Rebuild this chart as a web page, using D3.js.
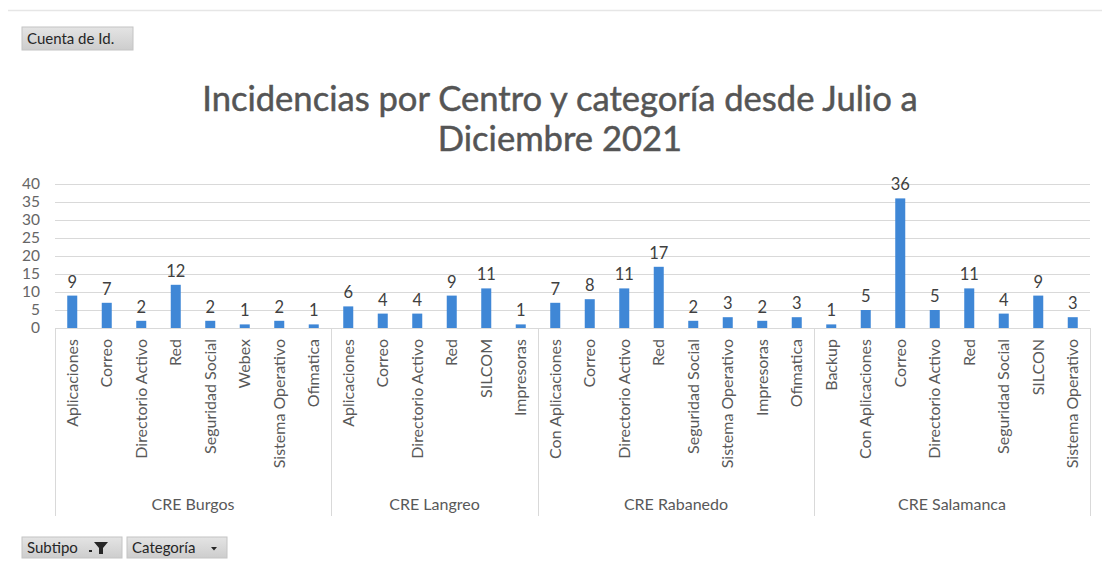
<!DOCTYPE html>
<html>
<head>
<meta charset="utf-8">
<script src="https://cdn.jsdelivr.net/npm/d3@7"></script>
<style>
  html, body { margin: 0; padding: 0; background: #ffffff; }
  svg { display: block; }
  text { font-family: Lato, "Open Sans", sans-serif; }
</style>
</head>
<body>
<svg id="chart" width="1102" height="561"></svg>
<script>
// Incidencias por centro (CRE) y subtipo, julio–diciembre 2021
const centros = ["CRE Burgos", "CRE Langreo", "CRE Rabanedo", "CRE Salamanca"];

const subtiposBurgos = ["Aplicaciones", "Correo", "Directorio Activo", "Red", "Seguridad Social", "Webex", "Sistema Operativo", "Ofimatica"];
const valoresBurgos = [9, 7, 2, 12, 2, 1, 2, 1];

const subtiposLangreo = ["Aplicaciones", "Correo", "Directorio Activo", "Red", "SILCOM", "Impresoras"];
const valoresLangreo = [6, 4, 4, 9, 11, 1];

const subtiposRabanedo = ["Con Aplicaciones", "Correo", "Directorio Activo", "Red", "Seguridad Social", "Sistema Operativo", "Impresoras", "Ofimatica"];
const valoresRabanedo = [7, 8, 11, 17, 2, 3, 2, 3];

const subtiposSalamanca = ["Backup", "Con Aplicaciones", "Correo", "Directorio Activo", "Red", "Seguridad Social", "SILCON", "Sistema Operativo"];
const valoresSalamanca = [1, 5, 36, 5, 11, 4, 9, 3];

const yTicks = [0, 5, 10, 15, 20, 25, 30, 35, 40];

const subtiposPorCentro = [subtiposBurgos, subtiposLangreo, subtiposRabanedo, subtiposSalamanca];
const valoresPorCentro = [valoresBurgos, valoresLangreo, valoresRabanedo, valoresSalamanca];

// Flatten into one row per bar
const rows = [];
centros.forEach((c, gi) => {
  subtiposPorCentro[gi].forEach((s, i) => {
    rows.push({ key: rows.length, centro: c, group: gi, subtipo: s, value: valoresPorCentro[gi][i] });
  });
});

const svg = d3.select("#chart");
const W = 1102, H = 561;
const plot = { left: 55, right: 1090, top: 184, bottom: 328 };

const x = d3.scaleBand()
  .domain(rows.map(d => d.key))
  .range([plot.left, plot.right])
  .paddingInner(0.71)
  .paddingOuter(0.355);

const y = d3.scaleLinear().domain([0, 40]).range([plot.bottom, plot.top]);

const gray = "#595959";

// outer frame line at top
svg.append("line")
  .attr("x1", 8).attr("x2", W).attr("y1", 10.5).attr("y2", 10.5)
  .attr("stroke", "#e6e6e6").attr("stroke-width", 1.5);

// Title
const title = svg.append("g").attr("fill", "#555555").attr("text-anchor", "middle");
const t1 = title.append("text").attr("x", 560).attr("y", 111)
  .style("font-size", "30px").text("Incidencias por Centro y categoría desde Julio a");
const targetW = 716;
const fs = 30 * targetW / t1.node().getComputedTextLength();
t1.style("font-size", fs + "px");
title.append("text").attr("x", 560).attr("y", 151)
  .style("font-size", fs + "px").text("Diciembre 2021");
title.selectAll("text").attr("stroke", "#555555").attr("stroke-width", 0.5);

// Gridlines
svg.append("g")
  .selectAll("line")
  .data(yTicks.filter(v => v > 0))
  .join("line")
  .attr("x1", plot.left).attr("x2", plot.right)
  .attr("y1", d => Math.round(y(d)) + 0.5).attr("y2", d => Math.round(y(d)) + 0.5)
  .attr("stroke", "#d9d9d9").attr("stroke-width", 1);

// Y axis
const yAxis = svg.append("g")
  .attr("transform", `translate(${plot.left},0)`)
  .call(d3.axisLeft(y).tickValues(yTicks).tickSize(0).tickPadding(15));
yAxis.select(".domain").remove();
yAxis.selectAll("text")
  .attr("fill", "#666666")
  .style("font-family", "Lato, 'Open Sans', sans-serif")
  .style("font-size", "15.5px");

// Bars
svg.append("g")
  .selectAll("rect")
  .data(rows)
  .join("rect")
  .attr("x", d => x(d.key))
  .attr("width", x.bandwidth())
  .attr("y", d => y(d.value))
  .attr("height", d => y(0) - y(d.value))
  .attr("fill", "#3f87d6");

// Value labels
svg.append("g")
  .selectAll("text")
  .data(rows)
  .join("text")
  .attr("x", d => x(d.key) + x.bandwidth() / 2)
  .attr("y", d => y(d.value) - 8)
  .attr("text-anchor", "middle")
  .attr("fill", "#404040")
  .style("font-size", "16.5px")
  .text(d => d.value);

// Category axis: baseline, group separators
svg.append("line")
  .attr("x1", plot.left).attr("x2", plot.right)
  .attr("y1", plot.bottom + 0.5).attr("y2", plot.bottom + 0.5)
  .attr("stroke", "#d9d9d9");

const groupBounds = centros.map((c, gi) => {
  const g = rows.filter(d => d.group === gi);
  const first = g[0].key, last = g[g.length - 1].key;
  const step = x.step();
  const x0 = x(first) - (step - x.bandwidth()) / 2;
  const x1 = x(last) + x.bandwidth() + (step - x.bandwidth()) / 2;
  return { centro: c, x0, x1 };
});

const seps = [groupBounds[0].x0].concat(groupBounds.map(g => g.x1));
svg.append("g")
  .selectAll("line")
  .data(seps)
  .join("line")
  .attr("x1", d => Math.round(d) + 0.5).attr("x2", d => Math.round(d) + 0.5)
  .attr("y1", plot.bottom).attr("y2", 516)
  .attr("stroke", "#d9d9d9");

// Subtipo labels (rotated)
svg.append("g")
  .selectAll("text")
  .data(rows)
  .join("text")
  .attr("transform", d => `translate(${x(d.key) + x.bandwidth() / 2 + 5.5},339) rotate(-90)`)
  .attr("text-anchor", "end")
  .attr("fill", gray)
  .style("font-size", "16px")
  .text(d => d.subtipo);

// Centro labels
svg.append("g")
  .selectAll("text")
  .data(groupBounds)
  .join("text")
  .attr("x", d => (d.x0 + d.x1) / 2)
  .attr("y", 510)
  .attr("text-anchor", "middle")
  .attr("fill", gray)
  .style("font-size", "16px")
  .text(d => d.centro);

// Pivot field buttons
const defs = svg.append("defs");
const grad = defs.append("linearGradient").attr("id", "btn").attr("x1", 0).attr("y1", 0).attr("x2", 0).attr("y2", 1);
grad.append("stop").attr("offset", "0%").attr("stop-color", "#e4e4e4");
grad.append("stop").attr("offset", "100%").attr("stop-color", "#cdcdcd");

function button(x0, y0, w, h, label) {
  const g = svg.append("g").attr("transform", `translate(${x0},${y0})`);
  g.append("rect").attr("width", w).attr("height", h)
    .attr("fill", "url(#btn)").attr("stroke", "#c4c4c4");
  g.append("text").attr("x", 5).attr("y", h / 2 + 5)
    .attr("fill", "#262626").style("font-size", "15px").text(label);
  return g;
}

button(22, 27, 111, 23, "Cuenta de Id.");

const b1 = button(22, 537, 100, 21, "Subtipo");
// filter glyph
b1.append("rect").attr("x", 67).attr("y", 13).attr("width", 3).attr("height", 2).attr("fill", "#262626");
b1.append("path").attr("d", "M72,5 L86,5 L81,11 L81,17 L77,17 L77,11 Z").attr("fill", "#262626");

const b2 = button(127, 537, 100, 21, "Categoría");
b2.append("path").attr("d", "M84,10 L90,10 L87,13.5 Z").attr("fill", "#262626");
</script>
</body>
</html>
